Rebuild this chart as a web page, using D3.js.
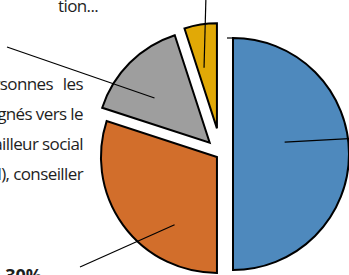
<!DOCTYPE html>
<html>
  <head>
    <meta charset="utf-8" />
    <title>Répartition</title>
    <style>
      body { margin: 0; background: #fff; }
      text { font-family: "Open Sans", "Noto Sans", sans-serif; fill: #1e1e1e; }
    </style>
  </head>
  <body>
    <script src="https://cdnjs.cloudflare.com/ajax/libs/d3/7.8.5/d3.min.js"></script>
    <script>
      // data
      const categories = ["Personnes orientées par un partenaire", "Autres", "Personnes les plus démunies", "Autre situation"];
      const values = [50, 30, 15, 5];
      const colors = ["#4e89bd", "#d26e2b", "#9e9e9e", "#e1a906"];

      const width = 349;
      const height = 275;
      const cx = 221, cy = 154;
      // each slice is pulled out by its own amount (Excel point explosion)
      const explode = [12, 5, 16, 26];
      const radius = [116, 116, 113, 105];

      const svg = d3.select("body").append("svg")
        .attr("width", width)
        .attr("height", height);

      const pie = d3.pie().sort(null).startAngle(0).endAngle(2 * Math.PI);
      const arcs = pie(values);

      const apex = (d, i) => {
        const mid = (d.startAngle + d.endAngle) / 2;
        return [cx + explode[i] * Math.sin(mid), cy - explode[i] * Math.cos(mid)];
      };

      const slices = svg.selectAll("g.slice")
        .data(arcs)
        .join("g")
        .attr("class", "slice")
        .attr("transform", (d, i) => `translate(${apex(d, i)})`);

      slices.append("path")
        .attr("d", (d, i) => d3.arc().innerRadius(0).outerRadius(radius[i])(d))
        .attr("fill", (d, i) => colors[i])
        .attr("stroke", "#000")
        .attr("stroke-width", 2)
        .attr("stroke-linejoin", "miter");

      // leader lines: angle (deg, clockwise from top) and distance from slice apex, then label anchor
      const leaders = [
        { angle: 77, dist: 53, to: [360, 138] },
        { angle: 212, dist: 80, to: [80, 267] },
        { angle: 309, dist: 71, to: [7, 47] },
        { angle: 348, dist: 62, to: [206, -5] }
      ];

      svg.selectAll("line.leader")
        .data(arcs)
        .join("line")
        .attr("class", "leader")
        .attr("x1", (d, i) => apex(d, i)[0] + leaders[i].dist * Math.sin(leaders[i].angle * Math.PI / 180))
        .attr("y1", (d, i) => apex(d, i)[1] - leaders[i].dist * Math.cos(leaders[i].angle * Math.PI / 180))
        .attr("x2", (d, i) => leaders[i].to[0])
        .attr("y2", (d, i) => leaders[i].to[1])
        .attr("stroke", "#000")
        .attr("stroke-width", 1.2);

      // short tick left of the blue slice's top corner
      svg.append("line")
        .attr("x1", apex(arcs[0], 0)[0] - 6).attr("y1", apex(arcs[0], 0)[1] - radius[0])
        .attr("x2", apex(arcs[0], 0)[0]).attr("y2", apex(arcs[0], 0)[1] - radius[0])
        .attr("stroke", "#000")
        .attr("stroke-width", 1.2);

      // labels (justified block, cut by the left edge as in the source)
      const grayLines = ["Personnes les", "accompagnés vers le", "travailleur social", "(assistant social), conseiller"];
      svg.append("text")
        .attr("text-anchor", "end")
        .attr("font-size", 17)
        .attr("letter-spacing", -0.6)
        .selectAll("tspan")
        .data(grayLines)
        .join("tspan")
        .attr("x", 83)
        .attr("y", (d, i) => 90 + i * 30)
        .attr("word-spacing", (d, i) => i === 0 ? 6 : 0)
        .text(d => d);

      svg.append("text")
        .attr("x", 58)
        .attr("y", 12)
        .attr("font-size", 17)
        .attr("letter-spacing", -0.6)
        .text("tion...");

      svg.append("text")
        .attr("x", 42)
        .attr("y", 282)
        .attr("text-anchor", "end")
        .attr("font-size", 18)
        .attr("font-weight", "bold")
        .text(categories[1] + " : " + values[1] + "%");
    </script>
  </body>
</html>
